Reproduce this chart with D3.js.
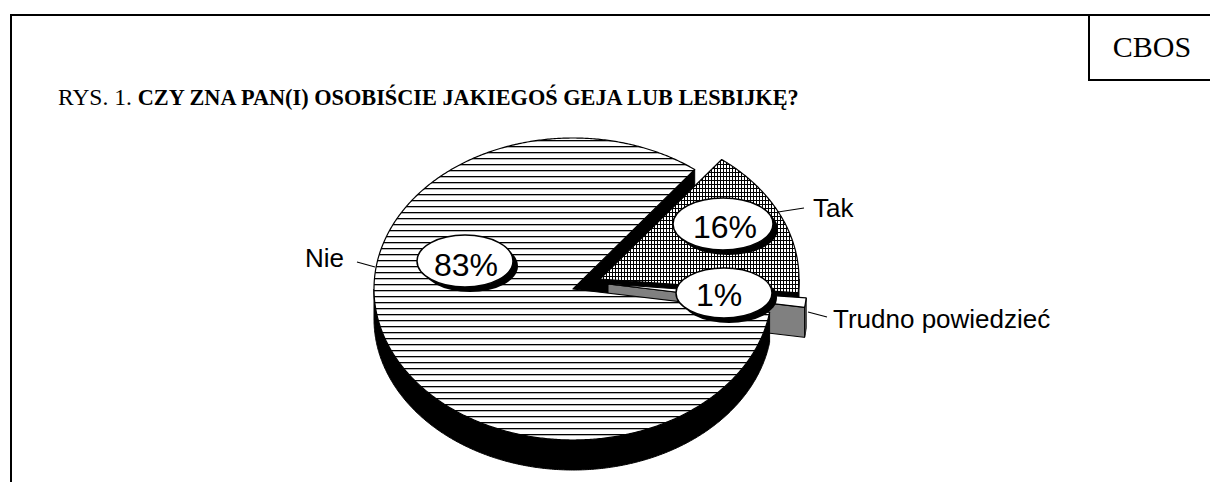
<!DOCTYPE html>
<html>
<head>
<meta charset="utf-8">
<script src="https://cdn.jsdelivr.net/npm/d3@7"></script>
<style>
  html, body { margin: 0; padding: 0; background: #fff; }
  svg { display: block; }
</style>
</head>
<body>
<svg id="chart" width="1210" height="482"></svg>
<script>
// Survey answers, in the order the slices run clockwise from the upper cut
const categories = ["Tak", "Trudno powiedzieć", "Nie"];
const shares = [16, 1, 83];
const shareLabels = ["16%", "1%", "83%"];

const titlePrefix = "RYS. 1. ";
const titleQuestion = "CZY ZNA PAN(I) OSOBIŚCIE JAKIEGOŚ GEJA LUB LESBIJKĘ?";
const sourceLabel = "CBOS";

const svg = d3.select("#chart");
const deg = Math.PI / 180;

// Tilted pie geometry: top-face ellipse and extrusion depth
const pieGeom = { cx: 573, cy: 289, rx: 199, ry: 151, depth: 30 };
const startAngle = 37.7 * deg;

const sliceStyle = {
  "Tak":               { top: "url(#grid)",   wall: "#000",    offset: [27, -10] },
  "Trudno powiedzieć": { top: "#fff",         wall: "#808080", offset: [35, -5] },
  "Nie":               { top: "url(#hlines)", wall: "#000",    offset: [0, 0] }
};

const labelLayout = {
  "Nie":               { badge: [465, 261, 48, 26], text: [466, 276], name: [305, 267], leader: [[357, 262], [375, 267]] },
  "Tak":               { badge: [723, 224, 50, 26], text: [725, 238], name: [813, 217], leader: [[778, 212], [804, 208]] },
  "Trudno powiedzieć": { badge: [724, 293, 48, 25], text: [719, 306], name: [833, 328], leader: [[808, 312], [827, 317]] }
};

// Fill patterns
const defs = svg.append("defs");
const hl = defs.append("pattern").attr("id", "hlines")
  .attr("patternUnits", "userSpaceOnUse").attr("width", 8).attr("height", 6);
hl.append("rect").attr("width", 8).attr("height", 6).attr("fill", "#fff");
hl.append("rect").attr("y", 2).attr("width", 8).attr("height", 1.3).attr("fill", "#000");

const gr = defs.append("pattern").attr("id", "grid")
  .attr("patternUnits", "userSpaceOnUse").attr("width", 3).attr("height", 4);
gr.append("rect").attr("width", 3).attr("height", 4).attr("fill", "#fff");
gr.append("rect").attr("width", 1).attr("height", 4).attr("fill", "#000");
gr.append("rect").attr("width", 3).attr("height", 1).attr("fill", "#000");

// Frame and source box
const frame = svg.append("g").attr("stroke", "#000").attr("stroke-width", 2).attr("fill", "none");
frame.append("line").attr("x1", 10).attr("y1", 15).attr("x2", 1210).attr("y2", 15);
frame.append("line").attr("x1", 11).attr("y1", 14).attr("x2", 11).attr("y2", 482);
frame.append("line").attr("x1", 1089).attr("y1", 15).attr("x2", 1089).attr("y2", 80);
frame.append("line").attr("x1", 1088).attr("y1", 80).attr("x2", 1210).attr("y2", 80);

svg.append("text")
  .attr("x", 1152).attr("y", 57)
  .attr("text-anchor", "middle")
  .attr("font-family", "'Liberation Serif', 'Times New Roman', serif")
  .attr("font-size", 30)
  .text(sourceLabel);

const title = svg.append("text")
  .attr("x", 58).attr("y", 105)
  .attr("font-family", "'Liberation Serif', 'Times New Roman', serif");
title.append("tspan").attr("font-size", 23.5).text(titlePrefix);
title.append("tspan").attr("font-size", 22.3).attr("font-weight", "bold").text(titleQuestion);

// Slice angles from d3.pie (clockwise from 12 o'clock)
const arcs = d3.pie().sort(null).value(d => d)
  .startAngle(startAngle).endAngle(startAngle + 2 * Math.PI)(shares);

function P(a, r, off, dz) {
  return [pieGeom.cx + off[0] + pieGeom.rx * r * Math.sin(a),
          pieGeom.cy + off[1] - pieGeom.ry * r * Math.cos(a) + (dz || 0)];
}
function arcPts(a0, a1, r, off, dz) {
  const n = Math.max(2, Math.ceil(Math.abs(a1 - a0) / (0.5 * deg)));
  return d3.range(n + 1).map(i => P(a0 + (a1 - a0) * i / n, r, off, dz));
}
const line = d3.line();

function topPoly(arc, off) {
  return [P(0, 0, off)].concat(arcPts(arc.startAngle, arc.endAngle, 1, off));
}
function wallPolys(arc, off) {
  const polys = [];
  const a0 = arc.startAngle, a1 = arc.endAngle, D = pieGeom.depth;
  // outer rim, only the half facing the viewer
  for (let k = 0; k < 2; k++) {
    const lo = Math.max(a0, Math.PI / 2 + 2 * Math.PI * k);
    const hi = Math.min(a1, 3 * Math.PI / 2 + 2 * Math.PI * k);
    if (hi > lo) polys.push(arcPts(lo, hi, 1, off).concat(arcPts(hi, lo, 1, off, D)));
  }
  // radial cut faces that turn toward the viewer
  const radial = a => [P(0, 0, off), P(a, 1, off), P(a, 1, off, D), P(0, 0, off, D)];
  if (Math.sin(a1) > 0) polys.push(radial(a1));
  if (Math.sin(a0) < 0) polys.push(radial(a0));
  return polys;
}

const pieLayer = svg.append("g");
const drawOrder = [
  ["Tak", "walls"], ["Trudno powiedzieć", "walls"], ["Trudno powiedzieć", "top"],
  ["Nie", "walls"], ["Nie", "top"], ["Tak", "top"]
];
drawOrder.forEach(([cat, part]) => {
  const i = categories.indexOf(cat);
  const st = sliceStyle[cat];
  if (part === "walls") {
    wallPolys(arcs[i], st.offset).forEach(poly => {
      pieLayer.append("path").attr("d", line(poly) + "Z")
        .attr("fill", st.wall).attr("stroke", "#000").attr("stroke-width", 1)
        .attr("stroke-linejoin", "round");
    });
  } else {
    pieLayer.append("path").attr("d", line(topPoly(arcs[i], st.offset)) + "Z")
      .attr("fill", st.top).attr("stroke", "#000").attr("stroke-width", 1.2)
      .attr("stroke-linejoin", "round");
  }
});

// Category names with leader lines, and percentage badges
const labels = svg.append("g");
categories.forEach((cat, i) => {
  const L = labelLayout[cat];
  labels.append("path").attr("d", line(L.leader))
    .attr("stroke", "#000").attr("stroke-width", 1.2).attr("fill", "none");
  labels.append("text")
    .attr("x", L.name[0]).attr("y", L.name[1])
    .attr("font-family", "'Liberation Sans', Arial, sans-serif")
    .attr("font-size", 26)
    .text(cat);

  const [bx, by, brx, bry] = L.badge;
  labels.append("ellipse").attr("cx", bx + 5).attr("cy", by + 5)
    .attr("rx", brx).attr("ry", bry).attr("fill", "#000");
  labels.append("ellipse").attr("cx", bx).attr("cy", by)
    .attr("rx", brx).attr("ry", bry)
    .attr("fill", "#fff").attr("stroke", "#000").attr("stroke-width", 1.5);
  labels.append("text")
    .attr("x", L.text[0]).attr("y", L.text[1])
    .attr("text-anchor", "middle")
    .attr("font-family", "'Liberation Sans', Arial, sans-serif")
    .attr("font-size", 32)
    .text(shareLabels[i]);
});
</script>
</body>
</html>
